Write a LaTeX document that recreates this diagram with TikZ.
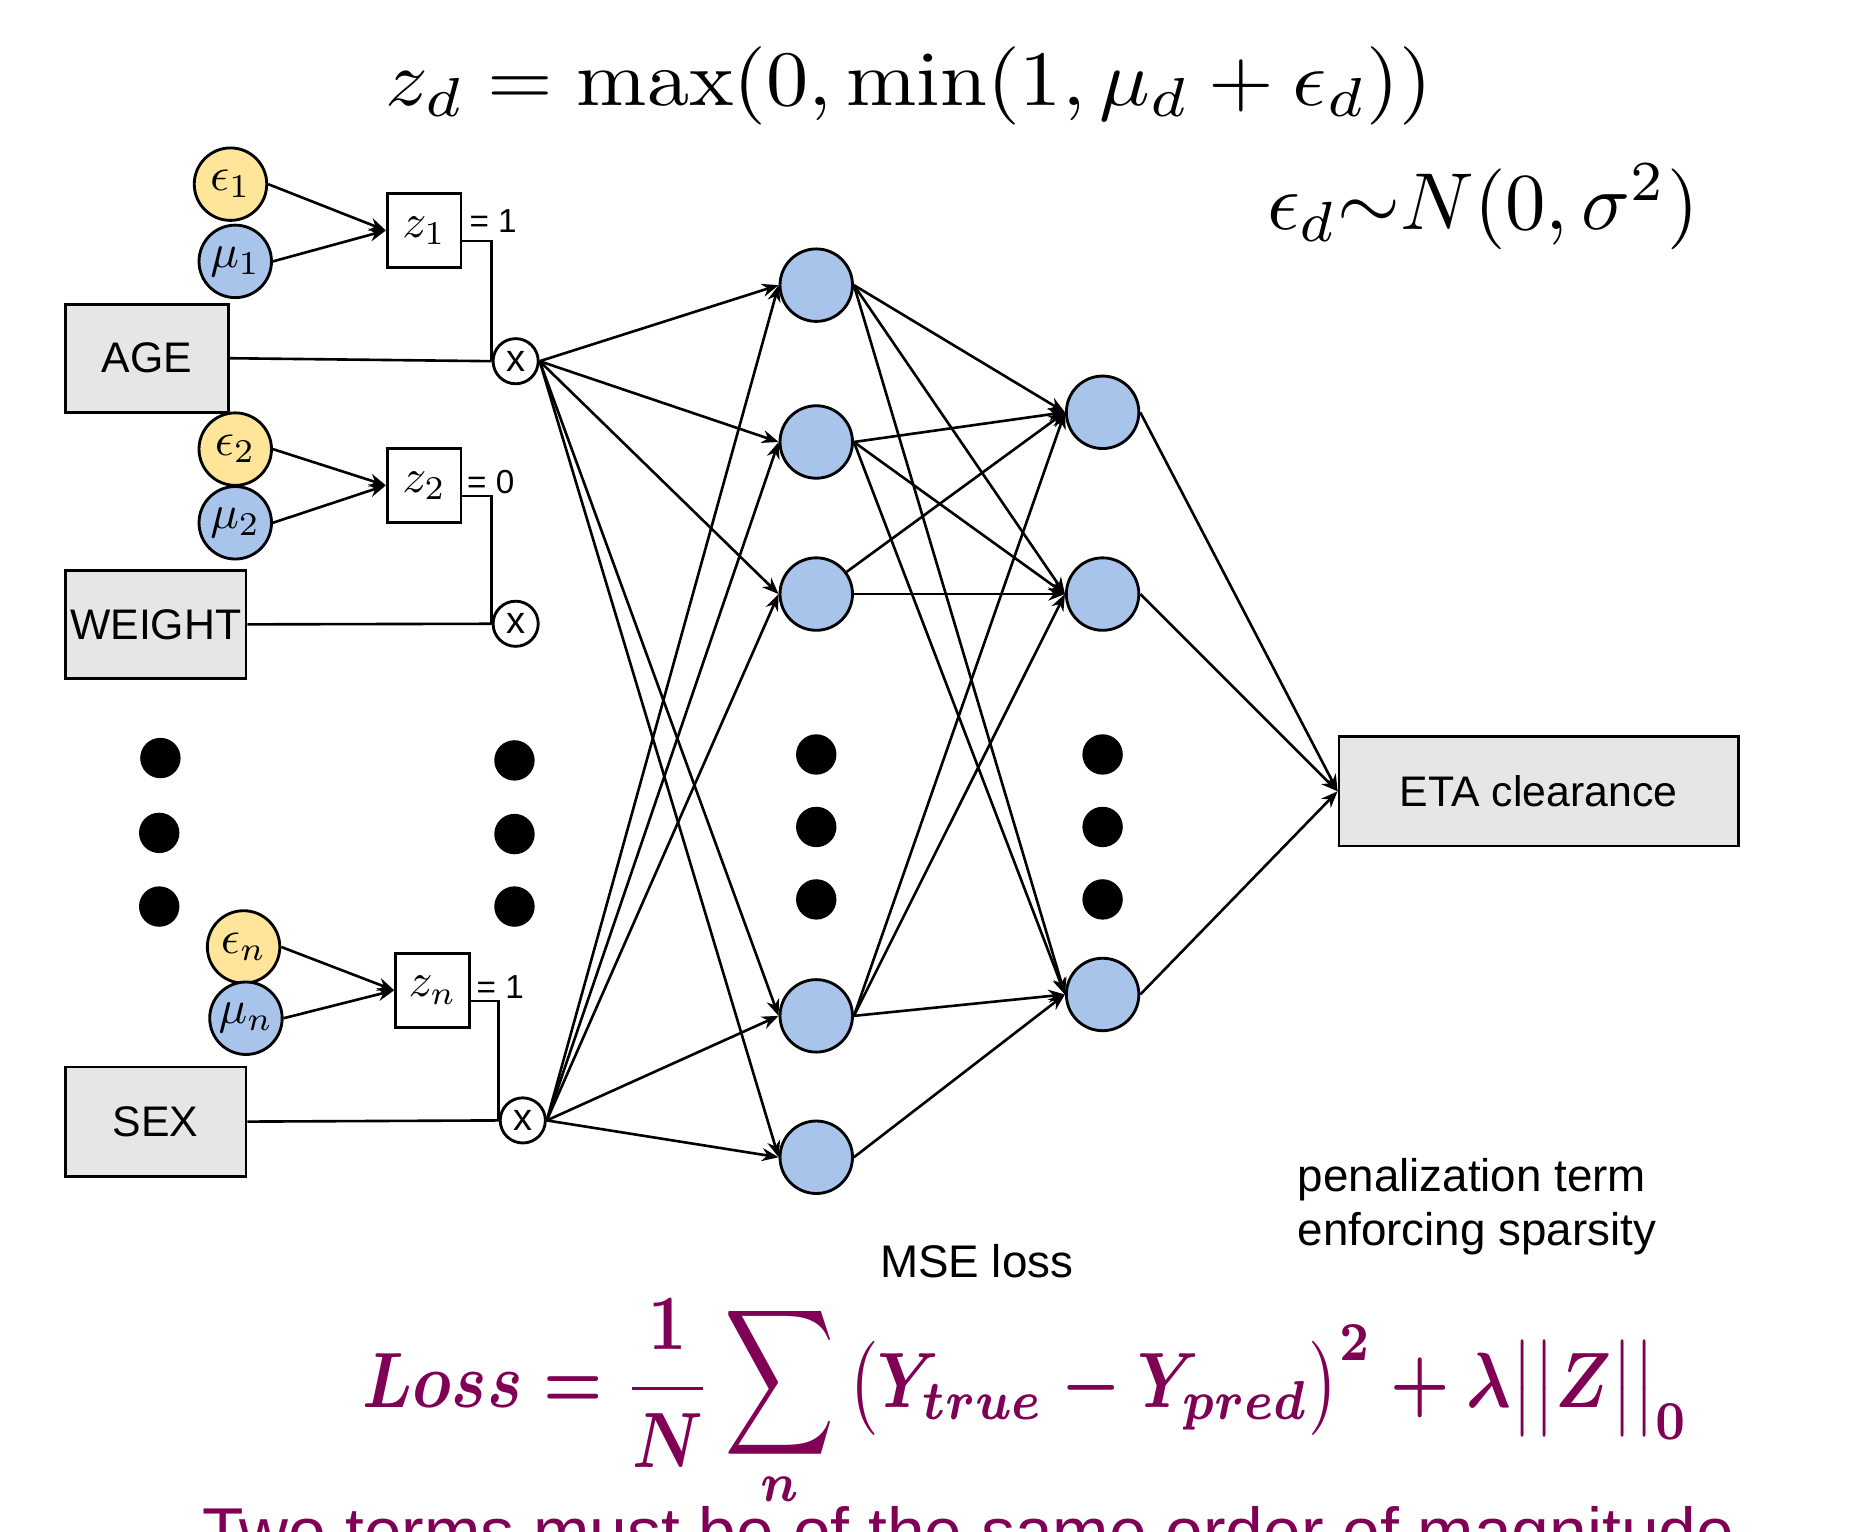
\documentclass[tikz,border=0pt]{standalone}
\usepackage{fontspec}
\newfontfamily\arial{Liberation Sans}
\usetikzlibrary{arrows.meta}
\definecolor{yel}{HTML}{FFE599}
\definecolor{blu}{HTML}{A9C4EB}
\definecolor{gry}{HTML}{E6E6E6}
\definecolor{lossc}{RGB}{128,0,85}
\newcommand{\scmath}[2]{\scalebox{#1}{$#2$}}
\newcommand{\bigsum}{\mathop{\scalebox{1.15}[1.3]{$\displaystyle\sum$}}}
\begin{document}
\begin{tikzpicture}[x=1pt,y=-1pt,
  inbox/.style={draw, fill=gry, line width=2.4pt, inner sep=0pt, minimum height=91pt,
    font=\arial\fontsize{36}{36}\selectfont},
  epsn/.style={circle, draw, fill=yel, line width=2.4pt, minimum size=61pt, inner sep=0pt},
  mun/.style={circle, draw, fill=blu, line width=2.4pt, minimum size=61pt, inner sep=0pt},
  zbox/.style={draw, fill=white, line width=2.4pt, minimum width=62pt, minimum height=62pt,
    inner sep=0pt},
  mult/.style={circle, draw, fill=white, line width=2.4pt, minimum size=38pt, inner sep=0pt,
    font=\arial\fontsize{32}{32}\selectfont},
  neuron/.style={circle, draw, fill=blu, line width=2.4pt, minimum size=61pt, inner sep=0pt},
  bigdot/.style={circle, fill=black, minimum size=34pt, inner sep=0pt},
  eqlab/.style={anchor=west, inner sep=0pt, font=\arial\fontsize{28}{28}\selectfont},
  arr/.style={-{Stealth[length=14pt,width=11pt]}, line width=2.2pt},
  conn/.style={line width=2.2pt},
  sans/.style={inner sep=0pt, font=\arial\fontsize{38.5}{38.5}\selectfont}
]
\useasboundingbox (0,0) rectangle (1568,1289);
\clip (0,0) rectangle (1568,1289);

% formulas on top
\node[inner sep=0pt] (title) at (765,72)
  {\scalebox{7.1}[6.6]{$z_d = \max(0,\min(1,\mu_d+\epsilon_d))$}};
\node[inner sep=0pt] (dist) at (1248,174)
  {\scmath{6.8}{\epsilon_d{\sim}N(0,\sigma^2)}};

% input group 1
\node[epsn] (e1) at (194,155) {\scmath{4}{\epsilon_1}};
\node[mun]  (m1) at (198,220) {\scmath{4}{\mu_1}};
\node[zbox] (z1) at (357,194) {\scmath{4}{z_1}};
\node[eqlab] (l1) at (395,186) {= 1};
\node[inbox, minimum width=137pt] (age) at (123.5,301.5) {AGE};
\node[mult] (x1) at (434,304) {x};

% input group 2
\node[epsn] (e2) at (198,378) {\scmath{4}{\epsilon_2}};
\node[mun]  (m2) at (198,440) {\scmath{4}{\mu_2}};
\node[zbox] (z2) at (357,408.5) {\scmath{4}{z_2}};
\node[eqlab] (l2) at (393,406) {= 0};
\node[inbox, minimum width=152pt] (weight) at (131,525.5) {WEIGHT};
\node[mult] (x2) at (434,525) {x};

% dots
\node[bigdot] (dl1) at (135,638) {};
\node[bigdot] (dl2) at (134,701) {};
\node[bigdot] (dl3) at (134,763) {};
\node[bigdot] (dm1) at (433,640) {};
\node[bigdot] (dm2) at (433,702) {};
\node[bigdot] (dm3) at (433,763) {};

% input group n
\node[epsn] (en) at (205,797) {\scmath{4}{\epsilon_n}};
\node[mun]  (mn) at (207,857) {\scmath{4}{\mu_n}};
\node[zbox] (zn) at (364,833.5) {\scmath{4}{z_n}};
\node[eqlab] (ln) at (401,831) {= 1};
\node[inbox, minimum width=152pt, minimum height=92pt] (sex) at (131,944) {SEX};
\node[mult] (x3) at (440,943) {x};

% hidden layer 1
\node[neuron] (h1) at (687,240) {};
\node[neuron] (h2) at (687,372) {};
\node[neuron] (h3) at (687,500) {};
\node[neuron] (h4) at (687,855) {};
\node[neuron] (h5) at (687,974) {};
\node[bigdot] (dh1) at (687,635) {};
\node[bigdot] (dh2) at (687,696) {};
\node[bigdot] (dh3) at (687,757) {};

% hidden layer 2
\node[neuron] (o1) at (928,347) {};
\node[neuron] (o2) at (928,500) {};
\node[neuron] (o3) at (928,837) {};
\node[bigdot] (do1) at (928,635) {};
\node[bigdot] (do2) at (928,696) {};
\node[bigdot] (do3) at (928,757) {};

% output
\node[inbox, minimum width=336pt, minimum height=92pt] (eta) at (1295,666) {ETA clearance};

% edges: eps/mu -> z
\foreach \a/\z in {e1/z1,m1/z1,e2/z2,m2/z2,en/zn,mn/zn}
  \draw[arr] (\a.east) -- (\z.west);
% z -> multiplier, inputs -> multiplier
\draw[conn] ([yshift=-9pt]z1.east) -| (x1.west);
\draw[conn] ([yshift=-9pt]z2.east) -| (x2.west);
\draw[conn] ([yshift=-9pt]zn.east) -| (x3.west);
\draw[conn] (age.east) -- (x1.west);
\draw[conn] (weight.east) -- (x2.west);
\draw[conn] (sex.east) -- (x3.west);

% multipliers -> hidden 1
\foreach \h in {h1,h2,h3,h4,h5}{
  \draw[arr] (x1.east) -- (\h.west);
  \draw[arr] (x3.east) -- (\h.west);
}
% hidden 1 -> hidden 2
\foreach \a/\b in {h1/o1,h1/o2,h1/o3,h2/o1,h2/o2,h2/o3,h3/o2,h4/o1,h4/o2,h4/o3,h5/o3}
  \draw[arr] (\a.east) -- (\b.west);
\draw[arr] (h3) -- (o1.west);
% hidden 2 -> output
\foreach \o in {o1,o2,o3}
  \draw[arr] (\o.east) -- (eta.west);

% loss texts
\node[sans, anchor=base] (mse) at (822,1075) {MSE loss};
\node[sans, anchor=base west] (pen1) at (1092,1003) {penalization term};
\node[sans, anchor=base west] (pen2) at (1092,1048) {enforcing sparsity};

\node[anchor=base west, inner sep=0pt, text=lossc] (loss) at (305,1185)
  {\scalebox{5.6}[6.6]{\boldmath$\displaystyle Loss=\frac{1}{N}\bigsum\limits_{\raisebox{1.6pt}{$\scriptstyle n$}}\big(Y_{true}-Y_{pred}\big)^{2}+\lambda\big|\big|Z\big|\big|_{0}$}};

\node[anchor=base west, inner sep=0pt, text=lossc, font=\arial\fontsize{57}{57}\selectfont] (note) at (170,1309)
  {Two terms must be of the same order of magnitude};
\end{tikzpicture}
\end{document}
